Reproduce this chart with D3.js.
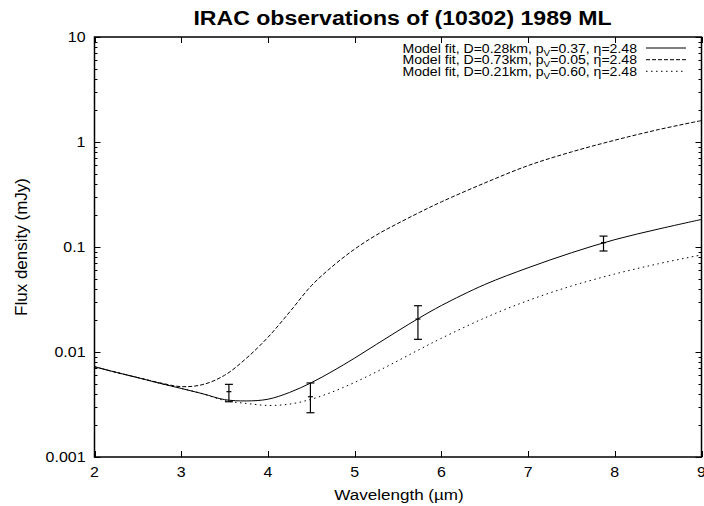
<!DOCTYPE html>
<html><head><meta charset="utf-8">
<script src="https://cdn.jsdelivr.net/npm/d3@7"></script>
<style>
html,body{margin:0;padding:0;background:#fff;}
text{font-family:"Liberation Sans",Arial,Helvetica,sans-serif;fill:#000;}
</style></head>
<body><svg id="chart" width="704" height="506"></svg>
<script>
// ---- data ----
const title = "IRAC observations of (10302) 1989 ML";
const xLabel = "Wavelength (\u00b5m)";
const yLabel = "Flux density (mJy)";
const xTicks = [2, 3, 4, 5, 6, 7, 8, 9];
const yTicks = [0.001, 0.01, 0.1, 1, 10];
const yTickLabels = ["0.001", "0.01", "0.1", "1", "10"];

const wavelength = [2.0, 2.25, 2.5, 2.75, 3.0, 3.25, 3.5, 3.75, 4.0, 4.25, 4.5, 4.75, 5.0, 5.25, 5.5, 5.75, 6.0, 6.5, 7.0, 7.5, 8.0, 8.5, 9.0];
const fitA = [0.00724, 0.0064, 0.0057, 0.00504, 0.0045, 0.0040, 0.00352, 0.00342, 0.00355, 0.00412, 0.0051, 0.0066, 0.00875, 0.0118, 0.0159, 0.0212, 0.0277, 0.0439, 0.0634, 0.0881, 0.1175, 0.148, 0.183];
const fitB = [0.00724, 0.0064, 0.0057, 0.0051, 0.00468, 0.0049, 0.0060, 0.0087, 0.0138, 0.0240, 0.0427, 0.066, 0.0955, 0.130, 0.168, 0.214, 0.269, 0.407, 0.596, 0.804, 1.04, 1.31, 1.60];
const fitC = [0.00724, 0.0064, 0.0057, 0.00504, 0.0045, 0.0040, 0.00345, 0.00324, 0.0031, 0.00319, 0.00355, 0.00419, 0.00513, 0.00646, 0.00826, 0.0106, 0.0135, 0.0211, 0.0309, 0.0425, 0.0553, 0.0692, 0.0841];

const obsWave = [3.55, 4.49, 5.73, 7.87];
const obsFlux = [0.00419, 0.00375, 0.0206, 0.110];
const obsLow  = [0.00336, 0.00264, 0.0132, 0.0916];
const obsHigh = [0.00492, 0.00507, 0.0276, 0.127];

const legendPre = ["Model fit, D=0.28km, p", "Model fit, D=0.73km, p", "Model fit, D=0.21km, p"];
const legendSub = ["V", "V", "V"];
const legendPost = ["=0.37, \u03b7=2.48", "=0.05, \u03b7=2.48", "=0.60, \u03b7=2.48"];
const seriesStyle = ["none", "4,2", "1.5,3.5"];

// ---- layout ----
const svg = d3.select("#chart");
const L = 94.5, R = 701.5, T = 37, B = 457;
const SX = 1.1; // horizontal text stretch seen in the reference
const x = d3.scaleLinear().domain([2, 9]).range([L, R]);
const y = d3.scaleLog().domain([0.001, 10]).range([B, T]);

function stext(px, py, size, anchor) {
  return svg.append("text")
    .attr("transform", `translate(${px},${py}) scale(${SX},1)`)
    .attr("text-anchor", anchor).attr("font-size", size);
}

// title
stext(402.5, 25, 21, "middle").attr("font-weight", "bold").text(title);

// axis labels
stext(399, 500, 15.5, "middle").text(xLabel);
svg.append("text").attr("transform", `translate(27,${(T + B) / 2}) rotate(-90)`)
  .attr("text-anchor", "middle").attr("font-size", 17).text(yLabel);

// ticks
const g = svg.append("g").attr("stroke", "#000").attr("stroke-width", 1);
const major = 6, minor = 3;
xTicks.forEach(t => {
  const px = Math.round(x(t)) + 0.5;
  g.append("line").attr("x1", px).attr("x2", px).attr("y1", B).attr("y2", B - major);
  g.append("line").attr("x1", px).attr("x2", px).attr("y1", T).attr("y2", T + major);
});
const minorY = [];
for (let d = 0.001; d < 10; d *= 10) for (let k = 2; k <= 9; k++) minorY.push(d * k);
minorY.forEach(v => {
  const py = Math.round(y(v)) + 0.5;
  g.append("line").attr("x1", L).attr("x2", L + minor).attr("y1", py).attr("y2", py);
  g.append("line").attr("x1", R).attr("x2", R - minor).attr("y1", py).attr("y2", py);
});
yTicks.forEach(v => {
  const py = Math.round(y(v)) + 0.5;
  g.append("line").attr("x1", L).attr("x2", L + major).attr("y1", py).attr("y2", py);
  g.append("line").attr("x1", R).attr("x2", R - major).attr("y1", py).attr("y2", py);
});

// tick labels
xTicks.forEach(t => { stext(x(t), B + 20, 14.5, "middle").text(t); });
yTicks.forEach((v, i) => { stext(L - 9, y(v) + 5, 14.5, "end").text(yTickLabels[i]); });

// curves
svg.append("clipPath").attr("id", "clip").append("rect")
  .attr("x", L).attr("y", T).attr("width", R - L).attr("height", B - T);
const line = d3.line().x(d => x(d[0])).y(d => y(d[1])).curve(d3.curveCatmullRom.alpha(0.5));
[fitA, fitB, fitC].forEach((vals, i) => {
  svg.append("path").attr("clip-path", "url(#clip)")
    .attr("d", line(wavelength.map((w, j) => [w, vals[j]])))
    .attr("fill", "none").attr("stroke", "#000").attr("stroke-width", 1)
    .attr("stroke-dasharray", seriesStyle[i]);
});

// error bars
const eb = svg.append("g").attr("stroke", "#000").attr("stroke-width", 1.2);
obsWave.forEach((w, i) => {
  const px = x(w);
  eb.append("line").attr("x1", px).attr("x2", px).attr("y1", y(obsLow[i])).attr("y2", y(obsHigh[i]));
  eb.append("line").attr("x1", px - 4).attr("x2", px + 4).attr("y1", y(obsLow[i])).attr("y2", y(obsLow[i]));
  eb.append("line").attr("x1", px - 4).attr("x2", px + 4).attr("y1", y(obsHigh[i])).attr("y2", y(obsHigh[i]));
  eb.append("line").attr("x1", px - 2.5).attr("x2", px + 2.5).attr("y1", y(obsFlux[i])).attr("y2", y(obsFlux[i]));
});

// frame
svg.append("rect").attr("x", L).attr("y", T).attr("width", R - L).attr("height", B - T)
  .attr("fill", "none").attr("stroke", "#000").attr("stroke-width", 1.5);

// legend
const rowsY = [48, 59.7, 71.3];
legendPre.forEach((s, i) => {
  const t = stext(637, rowsY[i] + 4.5, 12.8, "end");
  t.append("tspan").text(s);
  t.append("tspan").attr("font-size", 9).attr("dy", 3).text(legendSub[i]);
  t.append("tspan").attr("dy", -3).text(legendPost[i]);
  svg.append("line").attr("x1", 646).attr("x2", 686).attr("y1", rowsY[i]).attr("y2", rowsY[i])
    .attr("stroke", "#000").attr("stroke-width", 1).attr("stroke-dasharray", seriesStyle[i]);
});
</script></body></html>
